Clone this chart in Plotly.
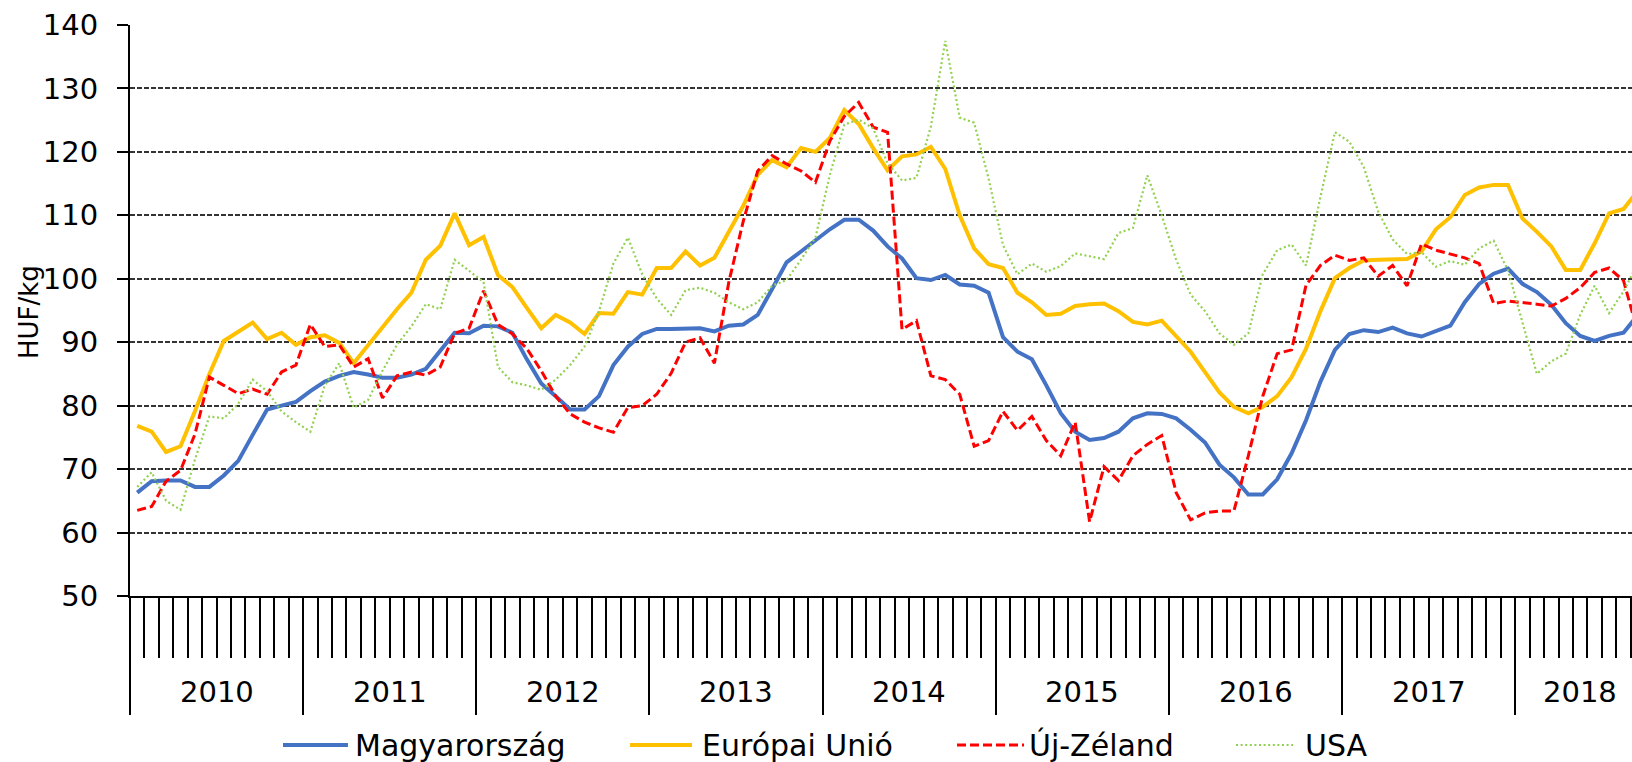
import plotly.graph_objects as go

# monthly prices, HUF/kg, Jan 2010 - Sep 2018
years = [2010, 2011, 2012, 2013, 2014, 2015, 2016, 2017, 2018]
series_names = ["Magyarország", "Európai Unió", "Új-Zéland", "USA"]

hu = [66.3, 68.1, 68.2, 68.2, 67.2, 67.2, 69.0, 71.3, 75.4, 79.4, 80.0, 80.6,
      82.3, 83.8, 84.7, 85.3, 84.9, 84.4, 84.4, 84.9, 85.8, 88.7, 91.5, 91.4,
      92.6, 92.5, 91.5, 87.3, 83.5, 81.5, 79.4, 79.4, 81.5, 86.4, 89.3, 91.3,
      92.1, 92.1, 92.2, 92.2, 91.7, 92.6, 92.8, 94.3, 98.4, 102.6, 104.3, 106.0,
      107.8, 109.3, 109.3, 107.6, 105.1, 103.2, 100.1, 99.8, 100.6, 99.1, 98.9, 97.8,
      90.8, 88.5, 87.3, 83.2, 78.8, 75.9, 74.6, 74.9, 75.9, 78.0, 78.8, 78.7,
      78.0, 76.2, 74.2, 70.7, 68.7, 66.0, 66.0, 68.4, 72.5, 77.7, 83.8, 88.8,
      91.3, 91.9, 91.6, 92.3, 91.4, 90.9, 91.7, 92.6, 96.3, 99.2, 100.8, 101.6,
      99.2, 97.9, 95.9, 93.0, 91.0, 90.2, 91.0, 91.5, 94.3]

eu = [76.8, 75.9, 72.7, 73.6, 79.1, 85.0, 90.2, 91.7, 93.1, 90.5, 91.5, 89.6,
      90.8, 91.1, 89.9, 86.7, 89.6, 92.5, 95.2, 97.8, 103.0, 105.2, 110.3, 105.3,
      106.6, 100.6, 98.7, 95.4, 92.2, 94.3, 93.1, 91.3, 94.6, 94.5, 97.9, 97.5,
      101.7, 101.7, 104.3, 102.1, 103.3, 107.4, 111.5, 116.4, 118.7, 117.6, 120.6, 120.0,
      122.2, 126.6, 124.4, 120.6, 117.1, 119.3, 119.6, 120.8, 117.3, 110.0, 104.8, 102.3,
      101.7, 97.8, 96.3, 94.3, 94.5, 95.7, 96.0, 96.1, 94.9, 93.2, 92.8, 93.4,
      90.9, 88.5, 85.3, 82.1, 79.8, 78.8, 79.8, 81.5, 84.5, 89.0, 94.9, 100.1,
      101.7, 102.9, 103.0, 103.0, 103.1, 104.3, 107.8, 109.7, 113.2, 114.4, 114.8, 114.8,
      109.5, 107.4, 105.1, 101.4, 101.4, 105.6, 110.3, 111.0, 113.9]

nz = [63.5, 64.1, 68.1, 69.8, 75.5, 84.5, 83.2, 81.9, 82.6, 81.8, 85.3, 86.4,
      92.8, 89.3, 89.6, 86.1, 87.4, 81.2, 84.7, 85.3, 84.8, 86.1, 91.4, 92.2,
      98.1, 92.8, 91.3, 89.0, 85.5, 81.5, 78.7, 77.4, 76.5, 75.8, 79.7, 80.0,
      81.8, 85.1, 90.0, 90.7, 86.7, 99.5, 109.1, 117.0, 119.4, 118.1, 117.0, 115.2,
      121.7, 125.6, 127.8, 123.9, 123.1, 92.0, 93.4, 84.7, 84.1, 81.8, 73.6, 74.5,
      79.1, 76.1, 78.3, 74.5, 72.1, 77.4, 61.7, 70.4, 68.2, 72.1, 73.9, 75.3,
      66.3, 62.0, 63.1, 63.4, 63.4, 72.1, 81.5, 88.2, 88.8, 99.0, 102.1, 103.7,
      102.9, 103.3, 100.4, 102.1, 98.9, 105.5, 104.5, 103.9, 103.3, 102.4, 96.1, 96.5,
      96.3, 96.0, 95.7, 96.9, 98.6, 101.0, 101.7, 99.7, 91.5]

usa = [67.2, 69.5, 65.0, 63.6, 71.5, 78.3, 78.0, 80.3, 84.1, 82.3, 79.1, 77.4,
       75.9, 83.2, 86.7, 79.7, 80.9, 85.5, 89.6, 92.5, 96.0, 95.2, 103.0, 101.3,
       99.5, 86.1, 83.7, 83.2, 82.5, 84.1, 86.4, 89.3, 94.9, 102.4, 106.5, 100.7,
       96.9, 94.3, 98.2, 98.6, 97.8, 96.3, 95.2, 96.3, 98.9, 99.8, 103.0, 106.5,
       116.4, 124.3, 125.1, 123.7, 118.2, 115.5, 115.9, 124.0, 137.5, 125.4, 124.6, 115.8,
       105.3, 100.7, 102.4, 101.1, 102.0, 104.0, 103.6, 103.1, 107.2, 108.0, 116.3, 110.0,
       103.0, 97.5, 94.9, 91.4, 89.6, 91.4, 100.7, 104.5, 105.4, 102.1, 112.9, 123.1,
       121.6, 117.6, 110.6, 106.2, 103.9, 104.2, 101.9, 102.8, 102.2, 104.8, 106.0, 101.3,
       93.1, 85.0, 87.0, 88.2, 94.3, 98.9, 94.6, 98.0, 102.5]

FONT = "DejaVu Sans"
W, H = 1632, 762
ML, MR, MT, MB = 130, 0, 25, 166
PW, PH = W - ML - MR, H - MT - MB
MONTH_PX = 14.43

def px_x(x):
    return (x - ML) / PW

def px_y(y):
    return (H - MB - y) / PH

styles = [
    dict(color="#4472C4", width=4, dash="solid"),
    dict(color="#FFC000", width=4, dash="solid"),
    dict(color="#FF0000", width=3, dash="9px,4px"),
    dict(color="#92D050", width=2.2, dash="2px,2.6px"),
]

months = list(range(len(hu)))
fig = go.Figure()
for name, vals, st in zip(series_names, [hu, eu, nz, usa], styles):
    fig.add_trace(go.Scatter(x=months, y=vals, mode="lines", name=name,
                             line=st, showlegend=False))

# year labels, centred on the months present for each year
annotations = []
for k, yr in enumerate(years):
    first = 12 * k
    last = min(12 * k + 11, len(hu) - 1)
    annotations.append(dict(x=(first + last) / 2, y=px_y(692), xref="x", yref="paper",
                            text=str(yr), showarrow=False, xanchor="center", yanchor="middle",
                            font=dict(family=FONT, size=29, color="black")))

annotations.append(dict(x=px_x(29), y=px_y(312), xref="paper", yref="paper",
                        text="HUF/kg", textangle=-90, showarrow=False,
                        xanchor="center", yanchor="middle",
                        font=dict(family=FONT, size=26, color="black")))

# hand-made legend: key line start/end and text start, in pixels
legend_pos = [(283, 348, 353), (630, 692, 700), (957, 1024, 1027), (1236, 1293, 1303)]
shapes = []
ly = px_y(745)
for name, st, (x0, x1, xt) in zip(series_names, styles, legend_pos):
    shapes.append(dict(type="line", xref="paper", yref="paper",
                       x0=px_x(x0), x1=px_x(x1), y0=ly, y1=ly, line=st))
    annotations.append(dict(x=px_x(xt), y=ly, xref="paper", yref="paper", text=name,
                            showarrow=False, xanchor="left", yanchor="middle",
                            font=dict(family=FONT, size=30, color="black")))

fig.update_layout(
    width=W, height=H,
    margin=dict(l=ML, r=MR, t=MT, b=MB, pad=0, autoexpand=False),
    paper_bgcolor="white", plot_bgcolor="white",
    font=dict(family=FONT, size=29, color="black"),
    xaxis=dict(range=[-0.5, -0.5 + PW / MONTH_PX], showgrid=False, zeroline=False,
               showline=True, linecolor="black", linewidth=2,
               ticks="outside", tickmode="linear", tick0=-0.5, dtick=12,
               ticklen=117, tickwidth=2, tickcolor="black", showticklabels=False,
               minor=dict(ticks="outside", tickmode="linear", tick0=-0.5, dtick=1,
                          ticklen=60, tickwidth=2, tickcolor="black", showgrid=False),
               automargin=False),
    yaxis=dict(range=[50, 140], tickmode="linear", tick0=50, dtick=10,
               showgrid=True, gridcolor="#333333", gridwidth=1.5, griddash="5px,2px",
               zeroline=False, showline=True, linecolor="black", linewidth=2,
               ticks="outside", ticklen=11, tickwidth=2, tickcolor="black",
               ticklabelstandoff=13, tickfont=dict(family=FONT, size=29, color="black"),
               automargin=False),
    annotations=annotations, shapes=shapes, showlegend=False,
)

# drop the default page margin so the figure sits at the window's corner
fig.write_html("out.html", config={"displayModeBar": False},
               post_script="document.body.style.margin='0px';")
